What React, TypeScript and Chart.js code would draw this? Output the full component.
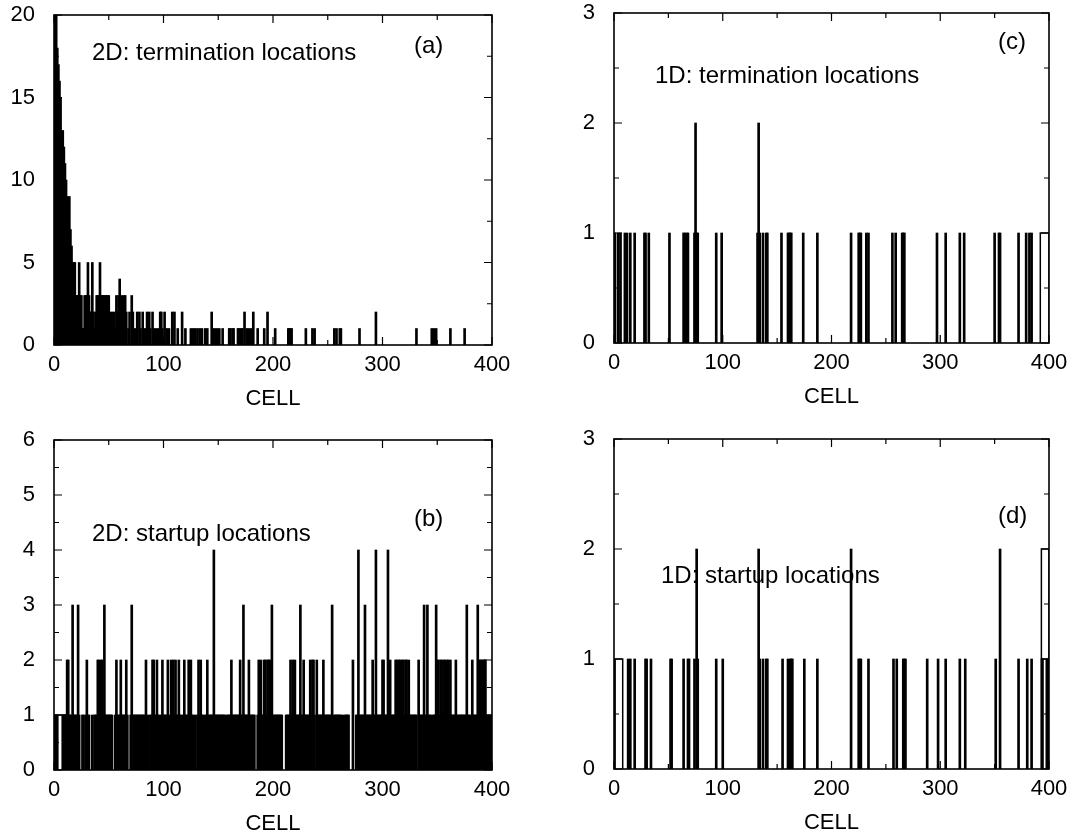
import React, { useEffect, useRef } from 'react';
import { Chart, registerables } from 'chart.js';

Chart.register(...registerables);

// ---------------- data ----------------
// (a) 2D termination locations: dense head (cells 0..91) + sparse tail
const term2DHead = [
  20, 20, 20, 18, 17, 16, 15, 13, 13, 12,
  11, 10, 9, 8, 9, 7, 6, 5, 5, 5,
  3, 3, 3, 5, 3, 3, 1, 1, 3, 3,
  3, 5, 3, 2, 2, 5, 2, 1, 2, 3,
  3, 3, 5, 3, 3, 3, 3, 3, 3, 3,
  3, 2, 1, 2, 1, 2, 1, 3, 2, 3,
  4, 1, 3, 2, 3, 3, 2, 0, 1, 2,
  0, 3, 2, 1, 0, 1, 2, 0, 2, 1,
  0, 2, 1, 0, 1, 2, 0, 2, 1, 0,
  2, 1,
];
const term2DTailCells = [
  93, 95, 97, 98, 99, 101, 103, 105, 108, 110,
  113, 117, 120, 125, 127, 129, 131, 133, 135, 138,
  140, 144, 145, 147, 149, 151, 154, 160, 161, 163,
  164, 168, 169, 171, 172, 174, 176, 178, 180, 182,
  186, 192, 195, 202, 214, 215, 216, 217, 230, 236,
  238, 256, 258, 261, 262, 279, 294, 331, 345, 347,
  349, 362, 375,
];
const term2DTailCounts = [
  1, 1, 2, 2, 1, 2, 1, 1, 2, 2,
  1, 2, 1, 1, 1, 1, 1, 1, 1, 1,
  1, 2, 1, 1, 1, 1, 1, 1, 1, 1,
  1, 1, 1, 1, 1, 2, 1, 1, 1, 2,
  1, 1, 2, 1, 1, 1, 1, 1, 1, 1,
  1, 1, 1, 1, 1, 1, 2, 1, 1, 1,
  1, 1, 1,
];

// (b) 2D startup locations, cells 0..399
const start2D_000 = [
  1, 1, 1, 1, 0, 0, 0, 0, 1, 1,
  1, 1, 2, 2, 1, 1, 1, 3, 1, 1,
  1, 1, 3, 1, 0, 0, 1, 1, 0, 1,
  2, 1, 1, 0, 0, 1, 0, 1, 1, 1,
  2, 2, 1, 2, 2, 1, 3, 1, 1, 1,
  1, 1, 1, 1, 0, 0, 1, 2, 1, 1,
  1, 2, 1, 1, 1, 1, 2, 1, 0, 0,
  1, 3, 1, 1, 1, 1, 1, 1, 1, 1,
  1, 1, 1, 1, 2, 0, 1, 0, 1, 1,
  2, 2, 1, 1, 2, 1, 1, 0, 1, 2,
];
const start2D_100 = [
  1, 1, 1, 1, 2, 1, 0, 2, 1, 2,
  1, 2, 1, 1, 2, 1, 1, 0, 1, 2,
  1, 1, 1, 2, 1, 2, 1, 1, 0, 1,
  0, 1, 2, 1, 2, 1, 1, 0, 1, 1,
  2, 1, 1, 1, 1, 1, 4, 1, 1, 1,
  1, 1, 1, 1, 1, 1, 1, 0, 1, 1,
  1, 1, 2, 1, 1, 1, 1, 1, 1, 1,
  2, 1, 1, 3, 1, 1, 1, 1, 2, 1,
  1, 1, 1, 1, 0, 0, 1, 2, 1, 2,
  1, 1, 2, 2, 1, 2, 2, 2, 1, 3,
];
const start2D_200 = [
  1, 1, 1, 1, 1, 1, 1, 1, 1, 0,
  0, 0, 1, 1, 1, 1, 2, 1, 2, 1,
  2, 1, 1, 1, 1, 3, 1, 1, 2, 1,
  1, 1, 1, 1, 2, 1, 2, 2, 1, 0,
  2, 1, 1, 1, 1, 1, 2, 1, 1, 1,
  1, 1, 1, 1, 3, 0, 1, 1, 1, 1,
  1, 1, 1, 0, 1, 0, 1, 1, 1, 1,
  0, 0, 0, 2, 0, 0, 1, 1, 4, 1,
  1, 1, 1, 1, 3, 1, 1, 1, 1, 1,
  1, 2, 1, 1, 4, 1, 1, 1, 1, 1,
];
const start2D_300 = [
  2, 2, 1, 1, 1, 4, 1, 2, 1, 1,
  1, 1, 2, 2, 1, 2, 2, 1, 2, 2,
  1, 2, 2, 1, 2, 1, 1, 1, 1, 1,
  1, 1, 0, 2, 1, 1, 1, 1, 3, 1,
  1, 3, 1, 1, 1, 0, 1, 1, 1, 3,
  2, 2, 1, 2, 2, 1, 2, 2, 1, 2,
  2, 1, 2, 1, 1, 1, 1, 2, 1, 1,
  1, 1, 1, 1, 1, 1, 1, 3, 1, 1,
  1, 0, 2, 1, 1, 1, 1, 3, 2, 2,
  2, 2, 2, 2, 2, 1, 1, 1, 1, 1,
];

// (c) 1D termination locations (sparse)
const term1DCells = [
  0, 1, 4, 6, 10, 12, 15, 19, 28, 29,
  32, 51, 64, 65, 67, 68, 74, 75, 76, 77,
  94, 99, 132, 133, 134, 137, 140, 141, 154, 160,
  161, 162, 163, 174, 187, 218, 225, 226, 227, 232,
  234, 256, 259, 265, 266, 267, 297, 305, 318, 322,
  350, 354, 355, 372, 379, 382, 384,
];
const term1DCounts = [
  1, 1, 1, 1, 1, 1, 1, 1, 1, 1,
  1, 1, 1, 1, 1, 1, 1, 2, 1, 1,
  1, 1, 1, 2, 1, 1, 1, 1, 1, 1,
  1, 1, 1, 1, 1, 1, 1, 1, 1, 1,
  1, 1, 1, 1, 1, 1, 1, 1, 1, 1,
  1, 1, 1, 1, 1, 1, 1,
];

// (d) 1D startup locations (sparse)
const start1DCells = [
  0, 13, 15, 19, 29, 30, 34, 52, 53, 64,
  68, 69, 74, 76, 77, 94, 100, 133, 134, 137,
  140, 141, 155, 160, 162, 163, 164, 175, 187, 218,
  225, 226, 227, 234, 257, 260, 266, 267, 268, 288,
  298, 305, 318, 323, 351, 355, 372, 380, 384, 394,
  398,
];
const start1DCounts = [
  1, 1, 1, 1, 1, 1, 1, 1, 1, 1,
  1, 1, 1, 2, 1, 1, 1, 2, 1, 1,
  1, 1, 1, 1, 1, 1, 1, 1, 1, 2,
  1, 1, 1, 1, 1, 1, 1, 1, 1, 1,
  1, 1, 1, 1, 1, 2, 1, 1, 1, 1,
  1,
];

// wide (multi-cell) bins drawn as outlines
const start2DWideBins = [{ from: 0, to: 11, count: 1 }];
const term1DWideBins = [{ from: 392, to: 400, count: 1 }];
const start1DWideBins = [
  { from: 1, to: 8, count: 1 },
  { from: 393, to: 400, count: 2 },
  { from: 393, to: 400, count: 1 },
];

const xTickStep = 100;
const xMax = 400;
const axisTitle = 'CELL';

// ---------------- helpers ----------------
type Pt = { x: number; y: number };
type Wide = { from: number; to: number; count: number };

function fromSparse(cells: number[], counts: number[]): Pt[] {
  return cells.map((c, i) => ({ x: c, y: counts[i] })).filter((p) => p.y > 0);
}
function fromDense(start: number, values: number[]): Pt[] {
  return values.map((v, i) => ({ x: start + i, y: v })).filter((p) => p.y > 0);
}

const PAGE_W = 1077;
const PAGE_H = 838;
const FONT = '"Liberation Sans", Arial, Helvetica, sans-serif';
const TICK_FONT = { family: FONT, size: 22 };
const Y_AXIS_W = 50;

type Panel = {
  key: string;
  bars: Pt[];
  wide: Wide[];
  yMax: number;
  yStep: number;
  area: { left: number; top: number; right: number; bottom: number };
  titleCenter: number;
};

const panels: Panel[] = [
  {
    key: 'a',
    bars: [
      ...fromDense(0, term2DHead),
      ...fromSparse(term2DTailCells, term2DTailCounts),
    ],
    wide: [],
    yMax: 20,
    yStep: 5,
    area: { left: 54, top: 15, right: 492, bottom: 345 },
    titleCenter: 399,
  },
  {
    key: 'b',
    bars: [
      ...fromDense(0, start2D_000),
      ...fromDense(100, start2D_100),
      ...fromDense(200, start2D_200),
      ...fromDense(300, start2D_300),
    ],
    wide: start2DWideBins,
    yMax: 6,
    yStep: 1,
    area: { left: 54, top: 440, right: 492, bottom: 770 },
    titleCenter: 824,
  },
  {
    key: 'c',
    bars: fromSparse(term1DCells, term1DCounts),
    wide: term1DWideBins,
    yMax: 3,
    yStep: 1,
    area: { left: 614, top: 13, right: 1049, bottom: 343 },
    titleCenter: 397,
  },
  {
    key: 'd',
    bars: fromSparse(start1DCells, start1DCounts),
    wide: start1DWideBins,
    yMax: 3,
    yStep: 1,
    area: { left: 614, top: 439, right: 1049, bottom: 769 },
    titleCenter: 823,
  },
];

const frameTicksPlugin = {
  id: 'frameTicks',
  afterDatasetsDraw(chart: any) {
    const { ctx, chartArea: a, scales } = chart;
    const xs = scales.x;
    const ys = scales.y;
    ctx.save();
    ctx.strokeStyle = '#000';
    ctx.lineWidth = 1.6;
    ctx.strokeRect(a.left, a.top, a.right - a.left, a.bottom - a.top);
    ctx.lineWidth = 1.2;
    const drawAxis = (scale: any, horizontal: boolean) => {
      const vals = scale.ticks.map((t: any) => t.value);
      const step = vals[1] - vals[0];
      const half = step / 2;
      const n = Math.round((scale.max - scale.min) / half);
      for (let i = 0; i <= n; i++) {
        const v = scale.min + i * half;
        const len = i % 2 === 0 ? 8 : 5;
        const p = scale.getPixelForValue(v);
        ctx.beginPath();
        if (horizontal) {
          ctx.moveTo(p, a.bottom);
          ctx.lineTo(p, a.bottom - len);
          ctx.moveTo(p, a.top);
          ctx.lineTo(p, a.top + len);
        } else {
          ctx.moveTo(a.left, p);
          ctx.lineTo(a.left + len, p);
          ctx.moveTo(a.right, p);
          ctx.lineTo(a.right - len, p);
        }
        ctx.stroke();
      }
    };
    drawAxis(xs, true);
    drawAxis(ys, false);
    ctx.restore();
  },
};

function zeroPadding(s: any) {
  s.paddingTop = 0;
  s.paddingBottom = 0;
  s.paddingLeft = 0;
  s.paddingRight = 0;
}

function makeConfig(p: Panel): any {
  const xAxisH = p.titleCenter + 13.2 - p.area.bottom;
  return {
    type: 'bar',
    data: {
      datasets: [
        {
          type: 'bar',
          data: p.bars,
          backgroundColor: '#000',
          borderWidth: 0,
          barThickness: 2,
          grouped: false,
        },
        ...p.wide.map((w) => ({
          type: 'line',
          data: [
            { x: w.from, y: 0 },
            { x: w.from, y: w.count },
            { x: w.to, y: w.count },
            { x: w.to, y: 0 },
          ],
          borderColor: '#000',
          borderWidth: 1.5,
          pointRadius: 0,
          fill: false,
          tension: 0,
        })),
      ],
    },
    options: {
      animation: false,
      responsive: false,
      events: [],
      layout: {
        autoPadding: false,
        padding: {
          left: p.area.left - Y_AXIS_W,
          top: p.area.top,
          right: PAGE_W - p.area.right,
          bottom: PAGE_H - p.area.bottom - xAxisH,
        },
      },
      plugins: {
        legend: { display: false },
        tooltip: { enabled: false },
      },
      scales: {
        x: {
          type: 'linear',
          min: 0,
          max: xMax,
          offset: false,
          grid: { display: false, drawTicks: false },
          border: { display: false },
          ticks: {
            stepSize: xTickStep,
            padding: 7,
            font: TICK_FONT,
            color: '#000',
            maxRotation: 0,
            autoSkip: false,
          },
          title: {
            display: true,
            text: axisTitle,
            font: TICK_FONT,
            color: '#000',
            padding: 0,
          },
          afterFit: (s: any) => {
            s.height = xAxisH;
            zeroPadding(s);
          },
        },
        y: {
          type: 'linear',
          min: 0,
          max: p.yMax,
          grid: { display: false, drawTicks: false },
          border: { display: false },
          ticks: {
            stepSize: p.yStep,
            padding: 19,
            font: TICK_FONT,
            color: '#000',
          },
          afterFit: (s: any) => {
            s.width = Y_AXIS_W;
            zeroPadding(s);
          },
        },
      },
    },
    plugins: [frameTicksPlugin],
  };
}

function PanelCanvas({ panel }: { panel: Panel }) {
  const ref = useRef<HTMLCanvasElement | null>(null);
  useEffect(() => {
    if (!ref.current) return;
    const chart = new Chart(ref.current, makeConfig(panel));
    return () => chart.destroy();
  }, [panel]);
  return (
    <canvas
      ref={ref}
      width={PAGE_W}
      height={PAGE_H}
      style={{ position: 'absolute', left: 0, top: 0, width: PAGE_W, height: PAGE_H }}
    />
  );
}

const labels = [
  { text: '2D: termination locations', left: 92, top: 40 },
  { text: '(a)', left: 414, top: 33 },
  { text: '1D: termination locations', left: 655, top: 63 },
  { text: '(c)', left: 998, top: 29 },
  { text: '2D: startup locations', left: 92, top: 521 },
  { text: '(b)', left: 414, top: 506 },
  { text: '1D: startup locations', left: 661, top: 563 },
  { text: '(d)', left: 998, top: 503 },
];

export default function App() {
  return (
    <div
      style={{
        position: 'absolute',
        left: 0,
        top: 0,
        width: PAGE_W,
        height: PAGE_H,
        background: '#fff',
        overflow: 'hidden',
      }}
    >
      {panels.map((p) => (
        <PanelCanvas key={p.key} panel={p} />
      ))}
      {labels.map((l) => (
        <div
          key={l.text}
          style={{
            position: 'absolute',
            left: l.left,
            top: l.top,
            fontFamily: FONT,
            fontSize: 24,
            lineHeight: '24px',
            whiteSpace: 'nowrap',
            color: '#000',
          }}
        >
          {l.text}
        </div>
      ))}
    </div>
  );
}
